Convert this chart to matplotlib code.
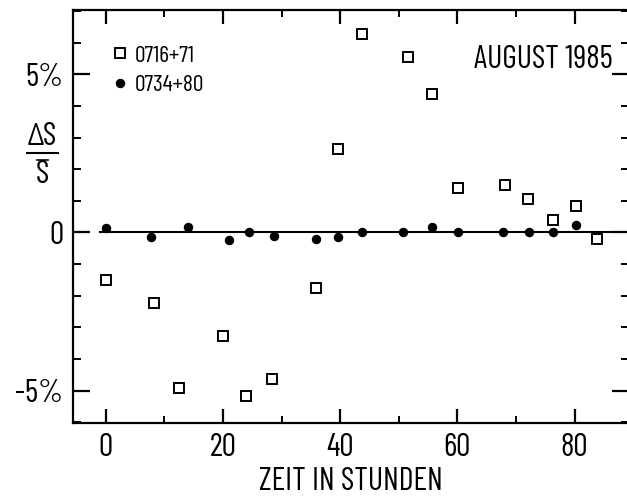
import matplotlib
matplotlib.use("Agg")
import matplotlib.pyplot as plt
from matplotlib.ticker import MultipleLocator, FixedLocator
from matplotlib.lines import Line2D

plt.rcParams['font.family'] = ['Barlow Condensed', 'DejaVu Sans']

# Relative flux variation (percent) versus time (hours)
hours_0716 = [0.1, 8.2, 12.5, 20.0, 24.0, 28.3, 35.9, 39.7, 43.8, 51.6, 55.7,
              60.2, 68.1, 72.1, 76.3, 80.2, 83.8]
dS_0716 = [-1.49, -2.22, -4.91, -3.28, -5.16, -4.62, -1.75, 2.65, 6.27, 5.56,
           4.39, 1.41, 1.50, 1.07, 0.38, 0.85, -0.22]

hours_0734 = [0.1, 7.75, 14.1, 21.0, 24.5, 28.8, 35.9, 39.6, 43.8, 50.7, 55.6,
              60.2, 67.8, 72.3, 76.4, 80.2]
dS_0734 = [0.14, -0.14, 0.16, -0.25, 0.02, -0.12, -0.22, -0.14, 0.01, 0.01,
           0.17, 0.0, 0.02, 0.0, 0.02, 0.25]

labels = ['0716+71', '0734+80']
ytick_vals = [-5, 0, 5]
ytick_text = ['-5%', '0', '5%']
xtick_vals = [0, 20, 40, 60, 80]

W, H = 627, 498
fig = plt.figure(figsize=(W / 100, H / 100), dpi=100)
ax = fig.add_axes([73 / W, 75 / H, 556 / W, 413 / H])

ax.set_xlim(-5.58, 89.3)
ax.set_ylim(-6.02, 7.03)

# zero reference line
ax.plot([-0.9, 86.3], [0, 0], color='black', lw=1.5, zorder=1)

ax.plot(hours_0716, dS_0716, ls='none', marker='s', ms=6.5, mfc='white',
        mec='black', mew=1.4, label=labels[0], zorder=3)
ax.plot(hours_0734, dS_0734, ls='none', marker='o', ms=5.8, mfc='black',
        mec='black', label=labels[1], zorder=3)

for side in ['left', 'top', 'bottom']:
    ax.spines[side].set_linewidth(1.6)
ax.spines['right'].set_visible(False)

ax.xaxis.set_major_locator(FixedLocator(xtick_vals))
ax.xaxis.set_minor_locator(MultipleLocator(10))
ax.yaxis.set_major_locator(FixedLocator(ytick_vals))
ax.set_yticklabels(ytick_text)
ax.yaxis.set_minor_locator(MultipleLocator(1))

ax.tick_params(axis='x', which='both', direction='in', top=True, bottom=True,
               labelsize=23, pad=7)
ax.tick_params(axis='x', which='major', length=10, width=1.6)
ax.tick_params(axis='x', which='minor', length=5, width=1.4)
ax.tick_params(axis='y', which='both', direction='in', left=True, right=True,
               labelsize=23, pad=7)
ax.tick_params(axis='y', which='major', length=12, width=1.6)
ax.tick_params(axis='y', which='minor', length=6, width=1.4)

ax.set_xlabel('ZEIT IN STUNDEN', fontsize=23, labelpad=3)

# y-axis label as a stacked fraction  ΔS / S̄
fig.text(42 / W, 1 - 137 / H, 'ΔS', fontsize=23, ha='center', va='center')
fig.add_artist(Line2D([27 / W, 58 / W], [1 - 153 / H, 1 - 153 / H],
                      transform=fig.transFigure, color='black', lw=1.5))
fig.add_artist(Line2D([37 / W, 48 / W], [1 - 160 / H, 1 - 160 / H],
                      transform=fig.transFigure, color='black', lw=1.2))
fig.text(42 / W, 1 - 175 / H, 'S', fontsize=23, ha='center', va='center')

ax.text(0.971, 0.88, 'AUGUST 1985', transform=ax.transAxes, fontsize=23,
        ha='right', va='center')

ax.legend(loc='upper left', bbox_to_anchor=(0.052, 0.938), frameon=False,
          fontsize=17, handlelength=0.7, handletextpad=0.3,
          labelspacing=0.33, borderaxespad=0)

fig.savefig('out.png', dpi=100)
